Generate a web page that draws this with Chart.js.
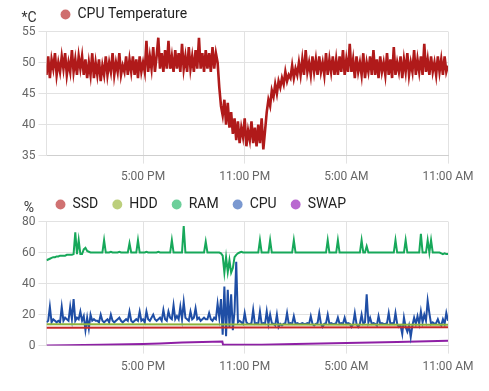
<!DOCTYPE html>
<html>
<head>
<meta charset="utf-8">
<script src="https://cdn.jsdelivr.net/npm/chart.js@4/dist/chart.umd.min.js"></script>
<style>
  body { margin: 0; background: #fff; }
  .box { position: absolute; left: 0; width: 489px; height: 190px; }
</style>
</head>
<body>
<div class="box" style="top:0"><canvas id="tempChart" width="489" height="190"></canvas></div>
<div class="box" style="top:190px"><canvas id="usageChart" width="489" height="190"></canvas></div>
<script>
// time axis: hours since midnight of the first day, one sample every 6 minutes
const T0 = 11.3;
const STEP = 0.1;
const xTicks = [17, 23, 29, 35];

// CPU temperature (*C)
const tempValues = [
  48, 51, 47.5, 50.5, 49, 51.5, 48, 50, 48.5, 51,
  49, 51.5, 48, 50, 48.5, 52, 48.5, 50.5, 48, 51,
  49, 51, 48, 50.5, 47.5, 50, 48, 51.5, 47.5, 50,
  48, 50.5, 47, 49.5, 48, 51, 48, 50, 48.5, 51.5,
  48, 50, 48.5, 51.5, 48, 49.5, 48.5, 51, 48, 50.5,
  48.5, 51, 48, 50.5, 47.5, 51, 48.5,
  50, 48.5, 53.5, 48.5, 51, 49, 52.5, 48.5, 51, 54,
  49, 51.5, 48.5, 52, 49, 53.5, 49, 51, 48.5, 52,
  49, 51.5, 48.5, 53, 49, 51, 48.5, 52.5, 49, 51,
  48.5, 52, 49, 54, 49, 51.5, 48.5, 52, 49, 51.5,
  48.5, 52.5, 49, 51.5,
  50, 46, 43, 41.5, 44, 40, 43.5, 39.5, 42, 38.5,
  41, 37.5, 40.5, 37, 39.5, 38, 41, 36.5, 39, 37.5,
  40.5, 37, 39.5, 36.5, 40, 37, 41, 36, 39, 42,
  44, 43, 45.5, 44.5, 46.5, 45, 47, 46, 47.5, 46.5,
  48.5, 47, 48, 47.5, 49.5, 47.5, 49, 48, 50, 48,
  50.5, 48, 52, 48.5, 50, 48, 51, 48.5, 50.5, 48,
  51, 48.5, 50, 48, 51.5, 48, 50.5, 48.5, 51, 48,
  50.5, 48, 51, 48.5, 52, 48, 50.5, 48.5, 53, 48.5,
  50.5, 47.5, 51, 48.5, 50, 48, 51.5, 47.5, 50, 48.5,
  51, 48, 52, 48, 50.5, 47.5, 51, 48.5, 50, 48,
  51.5, 48, 50.5, 47.5, 52.5, 48, 50, 48.5, 51, 47.5,
  50.5, 48.5, 51.5, 48, 50, 48.5, 52, 48, 50.5, 48.5,
  51, 48, 53, 48.5, 50.5, 48, 51, 48.5, 50, 48,
  51, 48.5, 50.5, 48, 51, 48.5, 49.5
];

// CPU usage (%)
const cpuValues = [
  15, 16, 25, 15, 17, 16, 15, 16, 15, 25,
  16, 18, 17, 16, 25, 17, 30, 16, 18, 17,
  22, 16, 19, 10, 18, 11, 20, 16, 17, 16,
  16, 15, 20, 16, 15, 16, 17, 15, 20, 16,
  15, 16, 17, 18, 16, 15, 16, 17, 16, 22,
  16, 15, 16, 17, 16, 22, 16, 17, 15, 22,
  17, 16, 18, 20, 17, 16, 17, 18, 16, 23,
  17, 16, 22, 18, 17, 26, 17, 19, 17, 25,
  17, 28, 18, 17, 16, 22, 17, 18, 24, 17,
  18, 16, 17, 18, 17, 17, 21, 17, 16, 18,
  17, 27, 18, 30, 7, 38, 6, 36, 12, 33,
  10, 22, 54, 15, 16, 15, 14, 21, 15, 14,
  14, 14.5, 23, 14, 14.5, 14, 22, 14, 14.5, 14,
  22, 14, 20, 14.5, 14, 13, 20, 12, 14, 13,
  14, 14.5, 21, 14, 14.5, 14, 19, 14, 14.5, 14,
  14, 14.5, 14, 14, 14.5, 14, 19, 14, 13, 14,
  14.5, 21, 14, 12, 14, 14.5, 20, 14, 14.5, 14,
  14, 14.5, 18, 14, 14.5, 14, 18, 14, 14.5, 14,
  12, 14, 21, 14, 12, 14, 20, 14, 15, 33,
  15, 18, 14, 14.5, 14, 13, 19, 14, 14.5, 14,
  14, 14.5, 21, 14, 14.5, 14, 21, 14, 12, 13,
  7.5, 18, 12, 9, 13, 5.5, 13, 18, 14, 19,
  14, 22, 15, 20, 16, 29, 21, 14, 15, 14,
  14.5, 17, 14, 13, 17, 14, 21, 16
];

// RAM usage (%)
const ramValues = [
  55, 55.5, 56, 56.5, 57, 57, 57.5, 57.5, 58, 58,
  58, 58, 58.5, 58.5, 58.5, 58.5, 59, 73, 59, 68,
  59, 59, 62, 63, 61, 60.5, 60, 60, 60, 60,
  60, 60, 60, 60, 68, 60, 60, 60, 60.5, 60,
  60, 60, 60, 60.5, 60, 60, 60, 60, 60, 66,
  60, 60, 60, 60, 68, 60, 60, 60, 60, 60.5,
  60, 60, 60, 60, 60, 60, 60.5, 60, 60, 60,
  60, 60, 60, 60, 68, 60, 60, 60, 60, 60,
  60, 77, 60, 60, 60, 60, 60, 60, 60, 60,
  60, 60, 60, 60, 67, 60, 60, 60, 60, 60,
  60, 60, 60, 59.5, 58, 47, 57, 47.5, 55, 47,
  50, 57, 58.5, 59.5, 60, 60.5, 60, 60, 60, 60,
  60, 60, 60, 60, 60, 60, 68, 60, 60, 60,
  60, 60, 68, 60, 60, 60, 60, 60, 60, 60,
  60, 60, 60, 60, 60, 60, 68, 60, 60, 60,
  60, 60, 60, 60, 60, 60, 60, 60, 60, 60,
  60, 60, 60, 60, 60, 60, 68, 60, 60, 60,
  60, 60, 68, 60, 60, 60, 60, 60, 60, 60,
  60, 60, 60, 60, 60, 60, 68, 60, 60, 64,
  60, 60, 60, 60, 60, 60, 60, 60, 60, 60,
  60, 60, 60, 60, 60, 60, 68, 60, 60, 60,
  60, 60, 68, 60, 60, 60, 60, 60, 60, 60,
  60, 72, 60, 60, 60, 68, 60, 68, 60, 60,
  60, 60, 60, 59.5, 59, 59.5, 59, 59
];

// slow series, stored as (time, value) pairs
const ssdTimes = [11.3, 23, 35];
const ssdValues = [11.5, 11.6, 11.8];
const hddTimes = [11.3, 23, 35];
const hddValues = [13.8, 13.6, 13.4];
const swapTimes = [11.3, 12.5, 14.5, 17, 18, 19.3, 21.68, 21.72, 24, 26, 29, 32, 35];
const swapValues = [0, 0.3, 0.6, 1.1, 1.4, 2, 2.6, 0.5, 0.6, 1, 1.6, 2.4, 3.1];

Chart.defaults.font.family = 'Roboto';
Chart.defaults.font.size = 12;
Chart.defaults.color = '#666';

function seriesPoints(values) {
    return values.map((v, i) => ({x: T0 + i * STEP, y: v}));
}

function pairPoints(times, values) {
    return times.map((t, i) => ({x: t, y: values[i]}));
}

function hourLabel(h) {
    let hh = h % 24;
    let suffix = hh < 12 ? 'AM' : 'PM';
    let h12 = hh % 12 === 0 ? 12 : hh % 12;
    return h12 + ':00 ' + suffix;
}

function line(label, data, color, legendColor, width) {
    return {
        label: label,
        data: data,
        borderColor: color,
        backgroundColor: legendColor,
        borderWidth: width || 2,
        pointRadius: 0,
        tension: 0,
        fill: false,
    };
}

// unit text in the top left corner, and small legend offset
const unitPlugin = {
    id: 'unitText',
    afterLayout(chart, args, opts) {
        if (opts.legendShift) {
            chart.legend.left += opts.legendShift;
        }
    },
    afterDraw(chart, args, opts) {
        const ctx = chart.ctx;
        ctx.save();
        ctx.font = '14px Roboto';
        ctx.fillStyle = '#333';
        ctx.textAlign = 'center';
        ctx.textBaseline = 'middle';
        ctx.fillText(opts.text, opts.x, opts.y);
        ctx.restore();
    }
};

function makeChart(id, datasets, yMin, yMax, yStep, unit, legendShift) {
    return new Chart(document.getElementById(id), {
        type: 'line',
        data: {datasets: datasets},
        plugins: [unitPlugin],
        options: {
            responsive: false,
            animation: false,
            layout: {padding: {left: 19, right: 41, top: -6.5, bottom: 0}},
            plugins: {
                tooltip: {enabled: false},
                unitText: {text: unit, x: 29, y: 18, legendShift: legendShift},
                legend: {
                    fullSize: false,
                    align: 'start',
                    labels: {
                        usePointStyle: true,
                        pointStyle: 'circle',
                        boxWidth: 10,
                        boxHeight: 7,
                        padding: 14,
                        color: '#222',
                        font: {size: 14},
                        generateLabels: chart => Chart.defaults.plugins.legend.labels.generateLabels(chart).map(l => {
                            l.strokeStyle = l.fillStyle;
                            l.lineWidth = 0;
                            return l;
                        })
                    }
                }
            },
            scales: {
                x: {
                    type: 'linear',
                    min: T0,
                    max: 35,
                    afterBuildTicks: axis => { axis.ticks = xTicks.map(v => ({value: v})); },
                    ticks: {callback: v => hourLabel(v), maxRotation: 0, padding: 6},
                    grid: {color: '#e2e2e2'},
                    border: {color: '#cfcfcf'}
                },
                y: {
                    min: yMin,
                    max: yMax,
                    ticks: {stepSize: yStep},
                    grid: {color: '#e2e2e2'},
                    border: {color: '#e2e2e2'}
                }
            }
        }
    });
}

makeChart('tempChart', [
    line('CPU Temperature', seriesPoints(tempValues), '#b01a1a', '#cf6e6e', 2.6)
], 35, 55, 5, '*C', 0);

makeChart('usageChart', [
    line('SSD', pairPoints(ssdTimes, ssdValues), '#c62828', '#d07272'),
    line('HDD', pairPoints(hddTimes, hddValues), '#8db33a', '#bccf7c'),
    line('RAM', seriesPoints(ramValues), '#17a85a', '#6ccf9a'),
    line('CPU', seriesPoints(cpuValues), '#1f4ea5', '#7a98d0'),
    line('SWAP', pairPoints(swapTimes, swapValues), '#8e1fa5', '#b968d0')
], 0, 80, 20, '%', -5);
</script>
</body>
</html>
